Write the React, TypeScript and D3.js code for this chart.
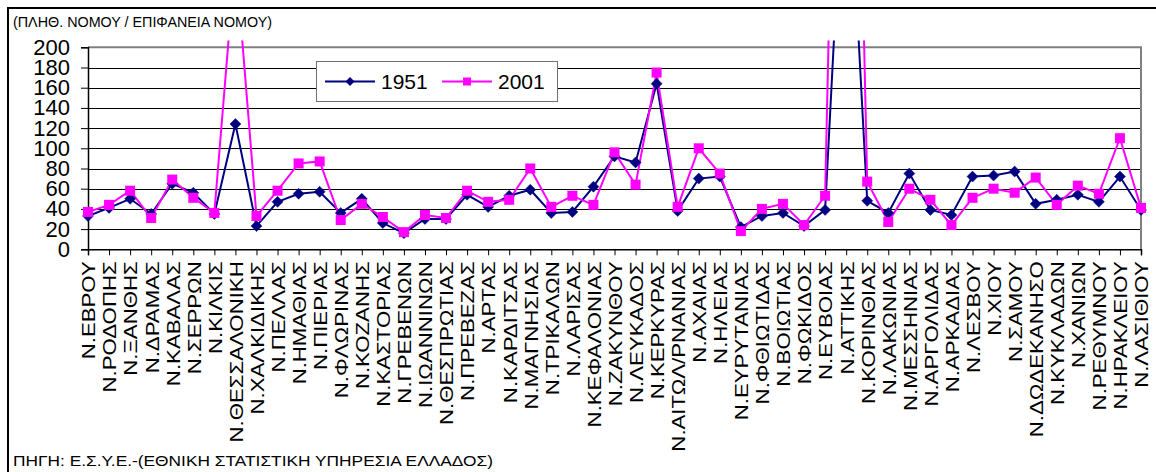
import React, { useEffect, useRef } from "react";
import * as d3 from "d3";

// prefectures, west to east order as in the source sheet
const prefectures = [
  "Ν.ΕΒΡΟΥ", "Ν.ΡΟΔΟΠΗΣ", "Ν.ΞΑΝΘΗΣ", "Ν.ΔΡΑΜΑΣ", "Ν.ΚΑΒΑΛΑΣ", "Ν.ΣΕΡΡΩΝ",
  "Ν.ΚΙΛΚΙΣ", "Ν.ΘΕΣΣΑΛΟΝΙΚΗ", "Ν.ΧΑΛΚΙΔΙΚΗΣ", "Ν.ΠΕΛΛΑΣ", "Ν.ΗΜΑΘΙΑΣ",
  "Ν.ΠΙΕΡΙΑΣ", "Ν.ΦΛΩΡΙΝΑΣ", "Ν.ΚΟΖΑΝΗΣ", "Ν.ΚΑΣΤΟΡΙΑΣ", "Ν.ΓΡΕΒΕΝΩΝ",
  "Ν.ΙΩΑΝΝΙΝΩΝ", "Ν.ΘΕΣΠΡΩΤΙΑΣ", "Ν.ΠΡΕΒΕΖΑΣ", "Ν.ΑΡΤΑΣ", "Ν.ΚΑΡΔΙΤΣΑΣ",
  "Ν.ΜΑΓΝΗΣΙΑΣ", "Ν.ΤΡΙΚΑΛΩΝ", "Ν.ΛΑΡΙΣΑΣ", "Ν.ΚΕΦΑΛΟΝΙΑΣ", "Ν.ΖΑΚΥΝΘΟΥ",
  "Ν.ΛΕΥΚΑΔΟΣ", "Ν.ΚΕΡΚΥΡΑΣ", "Ν.ΑΙΤΩΛ/ΡΝΑΝΙΑΣ", "Ν.ΑΧΑΙΑΣ", "Ν.ΗΛΕΙΑΣ",
  "Ν.ΕΥΡΥΤΑΝΙΑΣ", "Ν.ΦΘΙΩΤΙΔΑΣ", "Ν.ΒΟΙΩΤΙΑΣ", "Ν.ΦΩΚΙΔΟΣ", "Ν.ΕΥΒΟΙΑΣ",
  "Ν.ΑΤΤΙΚΗΣ", "Ν.ΚΟΡΙΝΘΙΑΣ", "Ν.ΛΑΚΩΝΙΑΣ", "Ν.ΜΕΣΣΗΝΙΑΣ", "Ν.ΑΡΓΟΛΙΔΑΣ",
  "Ν.ΑΡΚΑΔΙΑΣ", "Ν.ΛΕΣΒΟΥ", "Ν.ΧΙΟΥ", "Ν.ΣΑΜΟΥ", "Ν.ΔΩΔΕΚΑΝΗΣΟ",
  "Ν.ΚΥΚΛΑΔΩΝ", "Ν.ΧΑΝΙΩΝ", "Ν.ΡΕΘΥΜΝΟΥ", "Ν.ΗΡΑΚΛΕΙΟΥ", "Ν.ΛΑΣΙΘΙΟΥ"
];

const density1951 = [
  33, 41, 50, 35, 65, 56, 35, 124, 23, 47, 55, 57, 36, 50, 26, 16, 30, 30,
  54, 42, 53, 59, 36, 37, 62, 92, 86, 164, 38, 70, 72, 22, 33, 36, 23, 39,
  440, 48, 36, 75, 39, 34, 72, 73, 77, 45, 49, 54, 47, 72, 39
];

const density2001 = [
  37, 44, 58, 31, 69, 51, 36, 290, 33, 58, 85, 87, 29, 45, 32, 17, 34, 31,
  58, 47, 49, 80, 42, 53, 44, 96, 64, 175, 42, 100, 75, 18, 40, 45, 24, 53,
  990, 67, 27, 60, 49, 24, 51, 60, 56, 71, 44, 63, 55, 110, 41
];

const yTicks = [0, 20, 40, 60, 80, 100, 120, 140, 160, 180, 200];
const seriesNames = ["1951", "2001"];

const W = 1156;
const H = 472;
const font = "'Liberation Sans', Arial, sans-serif";
const navy = "#000080";
const magenta = "#ff00ff";
const labelStretch = 1.17; // the sheet's category text is drawn wide

const diamond = (r: number) => `M0,${-r}L${r},0L0,${r}L${-r},0Z`;

export default function App() {
  const ref = useRef<SVGSVGElement>(null);

  useEffect(() => {
    const svg = d3.select(ref.current);
    svg.selectAll("*").remove();

    const x = d3.scalePoint<string>().domain(prefectures).range([88, 1141]);
    const y = d3.scaleLinear().domain([0, 200]).range([249.3, 47.3]);
    const [x0, x1] = x.range();

    // outer frame (left and top only are visible)
    svg.append("path")
      .attr("d", `M8,${H}V8H${W}`)
      .attr("fill", "none")
      .attr("stroke", "#000")
      .attr("stroke-width", 2);

    svg.append("text")
      .attr("x", 13)
      .attr("y", 26.5)
      .attr("font-family", font)
      .attr("font-size", 14)
      .attr("textLength", 259)
      .attr("lengthAdjust", "spacingAndGlyphs")
      .text("(ΠΛΗΘ. ΝΟΜΟΥ / ΕΠΙΦΑΝΕΙΑ ΝΟΜΟΥ)");

    svg.append("text")
      .attr("x", 13)
      .attr("y", 466)
      .attr("font-family", font)
      .attr("font-size", 14)
      .attr("textLength", 480)
      .attr("lengthAdjust", "spacingAndGlyphs")
      .text("ΠΗΓΗ: Ε.Σ.Υ.Ε.-(ΕΘΝΙΚΗ ΣΤΑΤΙΣΤΙΚΗ ΥΠΗΡΕΣΙΑ ΕΛΛΑΔΟΣ)");

    // gridlines
    svg.append("g")
      .selectAll("line")
      .data(yTicks.filter(t => t > 0 && t < 200))
      .join("line")
      .attr("x1", x0)
      .attr("x2", x1)
      .attr("y1", d => Math.round(y(d)) + 0.5)
      .attr("y2", d => Math.round(y(d)) + 0.5)
      .attr("stroke", "#000")
      .attr("stroke-width", 1);

    // plot border top / right
    svg.append("path")
      .attr("d", `M${x0},${y(200)}H${x1}V${y(0)}`)
      .attr("fill", "none")
      .attr("stroke", "#808080")
      .attr("stroke-width", 2);

    // y axis
    const gy = svg.append("g")
      .attr("transform", `translate(${x0},0)`)
      .call(d3.axisLeft(y).tickValues(yTicks).tickSize(7).tickPadding(11));
    gy.select(".domain").attr("stroke", "#000").attr("stroke-width", 1.5);
    gy.selectAll(".tick line").attr("stroke", "#000");
    gy.selectAll("text")
      .attr("font-family", font)
      .attr("font-size", 22)
      .attr("fill", "#000");

    // x axis
    const gx = svg.append("g")
      .attr("transform", `translate(0,${y(0)})`)
      .call(d3.axisBottom(x).tickSize(6).tickPadding(0));
    gx.select(".domain").attr("stroke", "#000").attr("stroke-width", 1.5);
    gx.selectAll(".tick line").attr("stroke", "#000");
    gx.selectAll("text")
      .attr("font-family", font)
      .attr("font-size", 19)
      .attr("fill", "#000")
      .attr("text-anchor", "end")
      .attr("transform", `rotate(-90) scale(${labelStretch},1)`)
      .attr("x", -12 / labelStretch)
      .attr("y", 0)
      .attr("dy", "0.36em");

    // clip for off-scale values
    svg.append("clipPath")
      .attr("id", "plotClip")
      .append("rect")
      .attr("x", 0)
      .attr("y", 40.5)
      .attr("width", W)
      .attr("height", H);

    const line = d3.line<number>()
      .x((d, i) => x(prefectures[i]) as number)
      .y(d => y(d));

    const plot = svg.append("g").attr("clip-path", "url(#plotClip)");

    plot.append("path")
      .attr("d", line(density1951))
      .attr("fill", "none")
      .attr("stroke", navy)
      .attr("stroke-width", 2);

    plot.append("path")
      .attr("d", line(density2001))
      .attr("fill", "none")
      .attr("stroke", magenta)
      .attr("stroke-width", 2);

    plot.append("g")
      .selectAll("path")
      .data(density1951)
      .join("path")
      .attr("d", diamond(5.5))
      .attr("transform", (d, i) => `translate(${x(prefectures[i])},${y(d)})`)
      .attr("fill", navy)
      .attr("stroke", navy)
      .attr("stroke-width", 0.5);

    plot.append("g")
      .selectAll("rect")
      .data(density2001)
      .join("rect")
      .attr("x", (d, i) => (x(prefectures[i]) as number) - 5)
      .attr("y", d => y(d) - 5)
      .attr("width", 10)
      .attr("height", 10)
      .attr("fill", magenta);

    // legend
    const lg = svg.append("g").attr("transform", "translate(316,61)");
    lg.append("rect")
      .attr("x", 0.5)
      .attr("y", 0.5)
      .attr("width", 241)
      .attr("height", 40)
      .attr("fill", "#fff")
      .attr("stroke", "#707070")
      .attr("stroke-width", 1);

    const items = lg.selectAll("g.item")
      .data(seriesNames)
      .join("g")
      .attr("class", "item")
      .attr("transform", (d, i) => `translate(${9 + i * 117},20.5)`);

    items.append("line")
      .attr("x1", 0)
      .attr("x2", 50)
      .attr("stroke", (d, i) => (i === 0 ? navy : magenta))
      .attr("stroke-width", 2);

    items.each(function (d, i) {
      const g = d3.select(this);
      if (i === 0) {
        g.append("path").attr("d", diamond(4.5)).attr("transform", "translate(25,0)").attr("fill", navy);
      } else {
        g.append("rect").attr("x", 21).attr("y", -4).attr("width", 8).attr("height", 8).attr("fill", magenta);
      }
    });

    items.append("text")
      .attr("x", 56)
      .attr("dy", "0.36em")
      .attr("font-family", font)
      .attr("font-size", 21)
      .text(d => d);
  }, []);

  return (
    <svg
      ref={ref}
      width={W}
      height={H}
      style={{ position: "absolute", left: 0, top: 0, background: "#fff" }}
    />
  );
}
